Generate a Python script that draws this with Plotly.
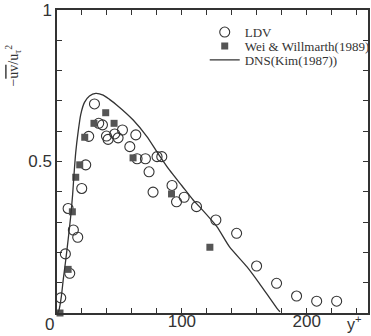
import plotly.graph_objects as go

# LDV (open circles)
ldv_x = [3.0, 6.7, 10.2, 8.9, 13.1, 16.6, 19.8, 23.0, 25.4, 30.0, 33.4, 36.4, 39.6, 40.9,
         46.2, 48.9, 52.4, 58.3, 63.1, 64.1, 70.8, 73.7, 76.9, 80.1, 83.9, 92.1, 95.7,
         101.8, 111.7, 127.2, 143.8, 159.8, 175.8, 191.8, 207.9, 223.9]
ldv_y = [0.050, 0.195, 0.131, 0.345, 0.274, 0.250, 0.411, 0.489, 0.583, 0.690, 0.626,
         0.621, 0.584, 0.573, 0.591, 0.578, 0.604, 0.549, 0.588, 0.509, 0.509, 0.466,
         0.399, 0.516, 0.516, 0.421, 0.367, 0.382, 0.351, 0.307, 0.263, 0.155, 0.098,
         0.056, 0.039, 0.039]

# Wei & Willmarth (1989) (filled squares)
ww_x = [2.4, 8.9, 12.3, 15.0, 18.2, 22.2, 29.6, 39.0, 45.7, 60.9, 91.7, 122.4]
ww_y = [0.0, 0.144, 0.334, 0.448, 0.489, 0.580, 0.626, 0.661, 0.626, 0.512, 0.393, 0.217]

# DNS (Kim 1987) line
dns_x = [0.5, 1.6, 3.5, 5.0, 7.0, 9.0, 11.0, 12.5, 13.5, 15.0, 17.0, 19.0, 22.0, 26.0,
         31.0, 37.0, 42.0, 48.0, 61.0, 72.0, 80.0, 90.0, 100.0, 109.0, 114.0, 128.0,
         138.0, 152.0, 162.0, 176.0, 178.5]
dns_y = [0.0, 0.010, 0.055, 0.110, 0.175, 0.245, 0.320, 0.390, 0.450, 0.530, 0.600,
         0.655, 0.695, 0.716, 0.725, 0.719, 0.705, 0.686, 0.637, 0.582, 0.532, 0.472,
         0.420, 0.373, 0.351, 0.285, 0.219, 0.153, 0.098, 0.016, 0.004]

x_ticks = list(range(0, 250, 20))
x_labels = {100: "100", 200: "200"}
y_ticks = [i / 10 for i in range(0, 11)]
y_labels = {0.5: "0.5", 1.0: "1"}

ink = "#333333"
serif = "Liberation Serif"
sans = "Liberation Sans"

fig = go.Figure()
fig.add_trace(go.Scatter(
    x=ldv_x, y=ldv_y, mode="markers", name="LDV", legend="legend",
    marker=dict(symbol="circle-open", size=10, color=ink, line=dict(width=1.1, color=ink)),
    cliponaxis=False))
fig.add_trace(go.Scatter(
    x=ww_x, y=ww_y, mode="markers", name="Wei & Willmarth(1989)", legend="legend2",
    marker=dict(symbol="square", size=7, color="#555555"),
    cliponaxis=False))
fig.add_trace(go.Scatter(
    x=dns_x, y=dns_y, mode="lines", name="DNS(Kim(1987))", legend="legend3",
    line=dict(color=ink, width=1.3, shape="spline", smoothing=0.6)))

axis_common = dict(
    showgrid=False, zeroline=False, showline=True, linecolor=ink, linewidth=1.5,
    mirror="ticks", ticks="inside", ticklen=5, tickwidth=1, tickcolor=ink,
    tickfont=dict(family=sans, size=17, color=ink))

fig.update_xaxes(range=[0, 249], tickmode="array", tickvals=x_ticks,
                 ticktext=[x_labels.get(v, "") for v in x_ticks],
                 ticklabelstandoff=-8, **axis_common)
fig.update_yaxes(range=[0, 1], tickmode="array", tickvals=y_ticks,
                 ticktext=[y_labels.get(round(v, 1), "") for v in y_ticks], **axis_common)

fig.add_annotation(text="0", xref="paper", yref="paper", x=0, y=0, xanchor="right",
                   yanchor="top", xshift=-1, yshift=0, showarrow=False,
                   font=dict(family=sans, size=17, color=ink))
fig.add_annotation(text="y<sup>+</sup>", xref="paper", yref="paper", x=0.955, y=-0.0759,
                   xanchor="center", yanchor="bottom", yshift=1, showarrow=False,
                   font=dict(family=sans, size=16, color=ink))
fig.add_annotation(text="\u2212<span style='text-decoration:overline'>uv</span>/u<sub>\u03c4</sub><sup>2</sup>",
                   xref="paper", yref="paper", x=-0.14, y=0.818, textangle=-90,
                   xanchor="center", yanchor="middle", showarrow=False,
                   font=dict(family=serif, size=14, color=ink))

leg_common = dict(x=0.475, xanchor="left", yanchor="middle", bgcolor="rgba(0,0,0,0)",
                  font=dict(family=serif, size=13, color=ink), itemwidth=30)

fig.update_layout(
    width=371, height=336,
    margin=dict(l=57, r=3, t=10, b=23, autoexpand=False),
    paper_bgcolor="white", plot_bgcolor="white",
    showlegend=True,
    legend=dict(y=0.927, **leg_common),
    legend2=dict(y=0.881, **leg_common),
    legend3=dict(y=0.835, **leg_common),
)

fig.write_html("out.html")
